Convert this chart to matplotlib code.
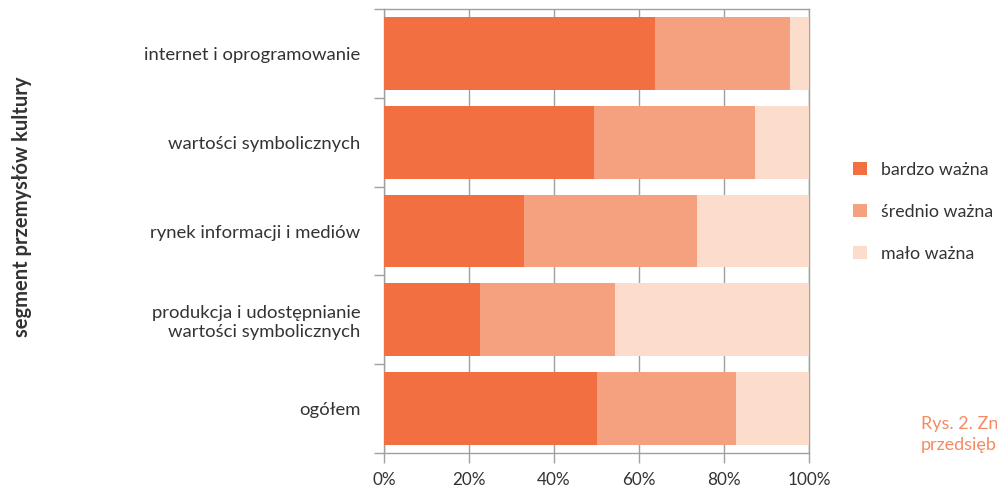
import numpy as np
import matplotlib.pyplot as plt
from matplotlib.patches import Patch

plt.rcParams['font.family'] = ['Lato', 'DejaVu Sans']

# dane (od góry do dołu)
segmenty = ["internet i oprogramowanie",
            "wartości symbolicznych",
            "rynek informacji i mediów",
            "produkcja i udostępnianie\nwartości symbolicznych",
            "ogółem"]
bardzo = [63.8, 49.4, 32.9, 22.6, 50.1]
srednio = [31.7, 37.9, 40.7, 31.8, 32.7]
malo = [4.5, 12.7, 26.4, 45.6, 17.2]
serie = ["bardzo ważna", "średnio ważna", "mało ważna"]
kolory = ["#F26F42", "#F5A17F", "#FCDCCB"]
xticks = [0, 20, 40, 60, 80, 100]

fig = plt.figure(figsize=(9.97, 4.88), dpi=100)
ax = fig.add_axes([0.3852, 0.0717, 0.4263, 0.9098])

y = np.arange(len(segmenty))[::-1]
left = np.zeros(len(segmenty))
for vals, kol in zip([bardzo, srednio, malo], kolory):
    ax.barh(y, vals, left=left, height=0.82, color=kol, zorder=3)
    left += np.array(vals)

ax.set_xlim(0, 100)
ax.set_ylim(-0.5, len(segmenty) - 0.5)
ax.set_xticks(xticks)
ax.set_xticklabels([f"{v}%" for v in xticks])
ax.xaxis.grid(True, color="#a0a0a0", linewidth=1, zorder=0)

# ticks na granicach kategorii, etykiety w środku
ax.set_yticks(np.arange(-0.5, len(segmenty), 1.0))
ax.set_yticklabels([])
ax.set_yticks(y, minor=True)
ax.set_yticklabels(segmenty, minor=True, ha="right", multialignment="right")
ax.tick_params(axis="y", which="minor", length=0, pad=17, labelsize=13.3, labelcolor="#333333")
ax.tick_params(axis="y", which="major", length=7, color="#a0a0a0", width=1)
ax.tick_params(axis="x", length=7, color="#a0a0a0", width=1, labelsize=12.3, labelcolor="#333333", pad=7)

for s in ax.spines.values():
    s.set_color("#a0a0a0")
    s.set_linewidth(1)

fig.text(0.022, 0.576, "segment przemysłów kultury", rotation=90, ha="center", va="center",
         fontsize=14.5, fontweight="bold", color="#333333")

uchwyty = [Patch(facecolor=k, edgecolor="none") for k in kolory]
fig.legend(uchwyty, serie, loc="center left", bbox_to_anchor=(0.856, 0.566), frameon=False,
           fontsize=12.8, labelcolor="#333333", handlelength=0.75, handleheight=0.75,
           handletextpad=0.8, labelspacing=1.45, borderpad=0, borderaxespad=0)

fig.text(0.924, 0.11, "Rys. 2. Zn\nprzedsięb", ha="left", va="center", fontsize=13,
         color="#F58A64", linespacing=1.35)

fig.savefig("out.png", dpi=100)
